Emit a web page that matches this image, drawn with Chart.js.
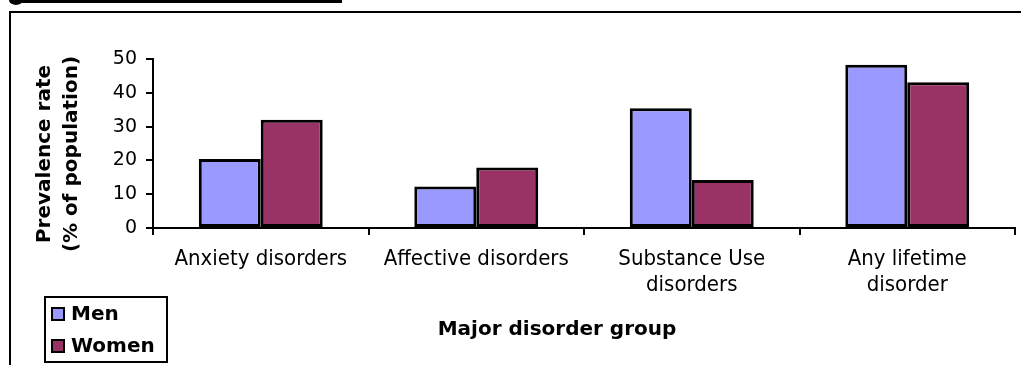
<!DOCTYPE html>
<html>
<head>
<meta charset="utf-8">
<script src="https://cdn.jsdelivr.net/npm/chart.js@4/dist/chart.umd.min.js"></script>
<style>
  html, body { margin: 0; padding: 0; background: #fff; overflow: hidden; }
  #wrap { position: relative; width: 1021px; height: 365px; }
  #chart { position: absolute; left: 0; top: 0; }
  .rule { position: absolute; left: 10px; top: 0; width: 332px; height: 3px; background: #000; }
  .dot { position: absolute; left: 9px; top: -5px; width: 14px; height: 10px; border-radius: 50%; background: #000; }
  .frame { position: absolute; left: 9px; top: 11px; width: 1100px; height: 400px;
           border-top: 2px solid #000; border-left: 2px solid #000; }
</style>
</head>
<body>
<div id="wrap">
  <canvas id="chart" width="1021" height="365"></canvas>
  <div class="rule"></div>
  <div class="dot"></div>
  <div class="frame"></div>
</div>
<script>
// Lifetime prevalence by disorder group and sex
const categories = [
  'Anxiety disorders',
  'Affective disorders',
  ['Substance Use', 'disorders'],
  ['Any lifetime', 'disorder']
];
const seriesNames = ['Men', 'Women'];
const menValues = [20.4, 12.3, 35.4, 48.3];
const womenValues = [32.0, 17.9, 14.2, 43.1];
const yTicks = [0, 10, 20, 30, 40, 50];
const yTitleLines = ['Prevalence rate', '(% of population)'];
const xTitle = 'Major disorder group';

const BASE_FONT = '"DejaVu Sans", Verdana, sans-serif';
const NARROW_FONT = '"DejaVu Sans Condensed", "Liberation Sans Narrow", sans-serif';

// Titles and the boxed legend drawn on top of the chart
const annotations = {
  id: 'annotations',
  afterDraw(chart) {
    const ctx = chart.ctx;
    ctx.save();
    ctx.fillStyle = '#000';
    ctx.font = 'bold 20px ' + BASE_FONT;
    ctx.textAlign = 'center';
    ctx.textBaseline = 'middle';

    // vertical axis title, two lines
    const yMid = 154;
    [45, 72].forEach((cx, i) => {
      ctx.save();
      ctx.translate(cx, yMid);
      ctx.rotate(-Math.PI / 2);
      ctx.fillText(yTitleLines[i], 0, 0);
      ctx.restore();
    });

    // horizontal axis title
    ctx.fillText(xTitle, 557, 330);

    // legend box
    const lx = 45, ly = 297, lw = 122, lh = 65;
    ctx.lineWidth = 2;
    ctx.strokeStyle = '#000';
    ctx.strokeRect(lx, ly, lw, lh);
    ctx.textAlign = 'left';
    chart.data.datasets.forEach((ds, i) => {
      const cy = 314 + i * 32;
      ctx.fillStyle = ds.backgroundColor;
      ctx.fillRect(52, cy - 6, 12, 12);
      ctx.lineWidth = 2;
      ctx.strokeRect(52, cy - 6, 12, 12);
      ctx.fillStyle = '#000';
      ctx.fillText(ds.label, 71, cy + 1);
    });
    ctx.restore();
  }
};

new Chart(document.getElementById('chart'), {
  type: 'bar',
  data: {
    labels: categories,
    datasets: [
      { label: seriesNames[0], data: menValues, backgroundColor: '#9999FF',
        borderColor: '#000', borderWidth: 3, borderSkipped: false },
      { label: seriesNames[1], data: womenValues, backgroundColor: '#993366',
        borderColor: '#000', borderWidth: 3, borderSkipped: false }
    ]
  },
  options: {
    responsive: false,
    animation: false,
    events: [],
    layout: { padding: { left: 0, top: 59, right: 6, bottom: 0 } },
    datasets: { bar: { categoryPercentage: 0.575, barPercentage: 1.0 } },
    plugins: {
      legend: { display: false },
      tooltip: { enabled: false },
      title: { display: false }
    },
    scales: {
      x: {
        offset: true,
        afterFit(scale) { scale.height = 137; },
        border: { display: true, color: '#000', width: 2 },
        grid: {
          offset: true, drawOnChartArea: false, drawTicks: true,
          tickLength: 7, color: '#000', lineWidth: 2
        },
        ticks: {
          color: '#000', padding: 11, maxRotation: 0, autoSkip: false,
          font: { family: NARROW_FONT, size: 22, lineHeight: 1.18 }
        }
      },
      y: {
        min: 0, max: 50,
        afterFit(scale) { scale.width = 153; },
        afterBuildTicks(scale) { scale.ticks = yTicks.map(v => ({ value: v })); },
        border: { display: true, color: '#000', width: 2 },
        grid: {
          drawOnChartArea: false, drawTicks: true,
          tickLength: 7, color: '#000', lineWidth: 2
        },
        ticks: {
          color: '#000', padding: 9,
          font: { family: BASE_FONT, size: 19 }
        }
      }
    }
  },
  plugins: [annotations]
});
</script>
</body>
</html>
